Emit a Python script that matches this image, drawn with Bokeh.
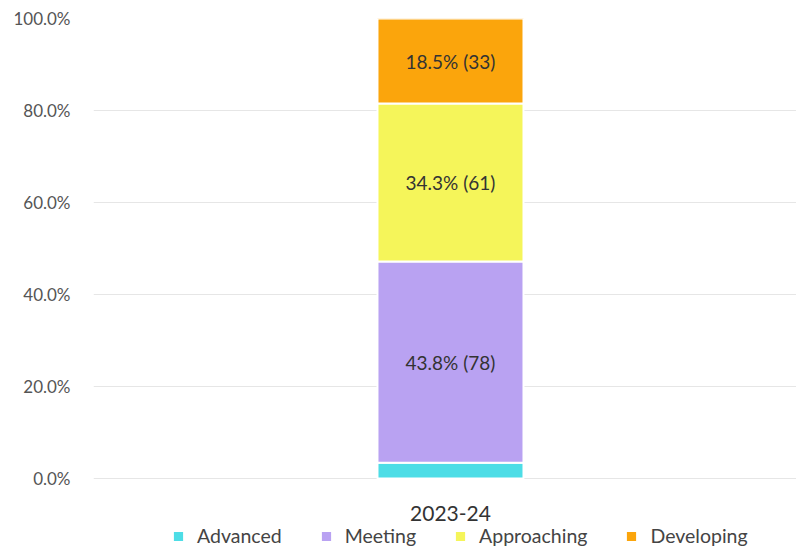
from bokeh.plotting import figure
from bokeh.models import (Range1d, FixedTicker, PrintfTickFormatter, ColumnDataSource,
                          Legend, LegendItem)
from bokeh.core.properties import value
from bokeh.embed import file_html
from bokeh.resources import INLINE

categories = ["2023-24"]
series = ["Advanced", "Meeting", "Approaching", "Developing"]
percents = [3.4, 43.8, 34.3, 18.5]
counts = [6, 78, 61, 33]
colors = ["#4ddde6", "#b9a2f2", "#f5f55a", "#fba50c"]
y_ticks = [0, 20, 40, 60, 80, 100]

FONT = "Lato"

# frame extends to bottom of figure so the legend can sit inside it
p = figure(width=796, height=547, output_backend="svg", toolbar_location=None,
           x_range=Range1d(-0.5078, 0.4922), y_range=Range1d(-15, 100),
           min_border_left=93, min_border_right=0, min_border_top=18, min_border_bottom=0)
p.outline_line_color = None
p.background_fill_color = "white"

bottoms = []
acc = 0.0
for v in percents:
    bottoms.append(acc)
    acc += v
tops = [b + v for b, v in zip(bottoms, percents)]

items = []
for i, name in enumerate(series):
    src = ColumnDataSource(dict(x=[0], bottom=[bottoms[i]], top=[tops[i]]))
    r = p.vbar(x="x", bottom="bottom", top="top", width=0.2077, source=src,
               fill_color=colors[i], line_color="white", line_width=2)
    items.append(LegendItem(label=name, renderers=[r]))
    if percents[i] > 10:
        p.text(x=[0], y=[(bottoms[i] + tops[i]) / 2], text=[f"{percents[i]:.1f}% ({counts[i]})"],
               text_font=value(FONT), text_font_size="19px", text_color="#333333",
               text_align="center", text_baseline="middle")

# category label under the bar
p.text(x=list(range(len(categories))), y=[0] * len(categories), text=categories,
       y_offset=35, text_font=value(FONT), text_font_size="21px", text_color="#333333",
       text_align="center", text_baseline="middle")

# axes
p.yaxis.ticker = FixedTicker(ticks=y_ticks)
p.yaxis.formatter = PrintfTickFormatter(format="%.1f%%")
p.yaxis.axis_line_color = None
p.yaxis.major_tick_line_color = None
p.yaxis.minor_tick_line_color = None
p.yaxis.major_label_text_font = FONT
p.yaxis.major_label_text_font_size = "17px"
p.yaxis.major_label_text_color = "#555555"
p.yaxis.major_label_standoff = 17

p.xaxis.visible = False

p.xgrid.grid_line_color = None
p.ygrid.grid_line_color = "#e6e6e6"
p.ygrid.grid_line_width = 1

legend = Legend(items=items, orientation="horizontal", location=(78, 0),
                glyph_width=14, glyph_height=14, label_standoff=12, spacing=37,
                padding=0, margin=0, border_line_color=None, background_fill_alpha=0,
                label_text_font=FONT, label_text_font_size="19.5px", label_text_color="#444444")
p.add_layout(legend, "center")

open("out.html", "w").write(file_html(p, INLINE))
